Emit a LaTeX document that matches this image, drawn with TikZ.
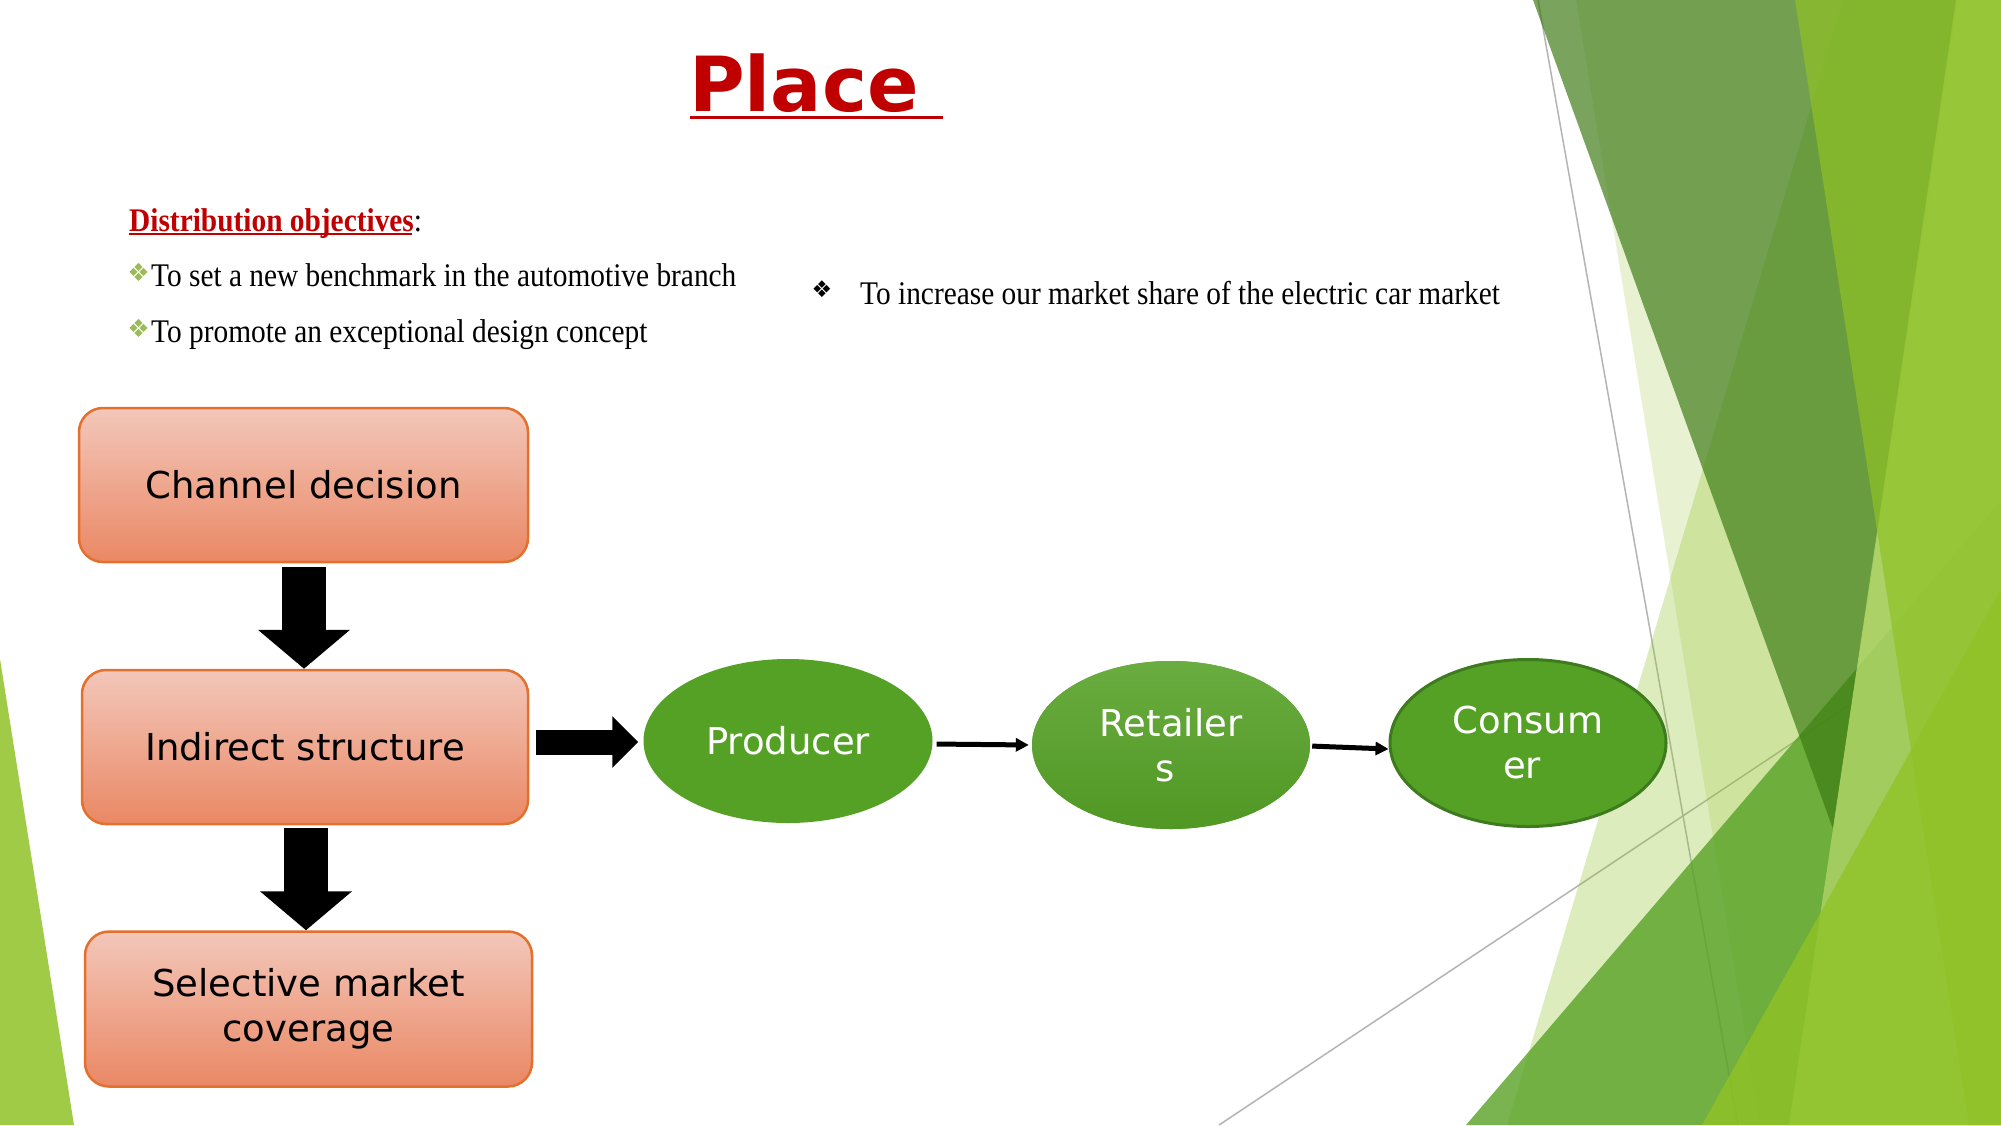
\documentclass[tikz,border=0pt]{standalone}
\usepackage{fontspec}
\setmainfont{Liberation Serif}
\newfontfamily\djsans{DejaVu Sans}
\newfontfamily\condserif[FakeStretch=0.89]{Liberation Serif}
\usetikzlibrary{arrows.meta,shapes.geometric,calc}

\definecolor{accA}{RGB}{144,194,38}
\definecolor{accB}{RGB}{84,160,33}
\definecolor{olivec}{RGB}{59,121,18}
\definecolor{bandL}{RGB}{168,208,98}
\definecolor{titlered}{RGB}{192,0,0}
\definecolor{bulletgreen}{RGB}{155,187,89}
\definecolor{boxtop}{RGB}{243,199,186}
\definecolor{boxbot}{RGB}{234,136,100}
\definecolor{boxline}{RGB}{228,112,45}
\definecolor{ellfill}{RGB}{85,161,38}
\definecolor{ellline}{RGB}{62,122,30}
\definecolor{thinline}{RGB}{180,180,180}

\tikzset{
  boxnode/.style={draw=boxline, line width=2.5pt, rounded corners=24pt,
    top color=boxtop, bottom color=boxbot, text=black, align=center, inner sep=0pt,
    font=\djsans\fontsize{37}{45}\selectfont},
  ellnode/.style={ellipse, fill=ellfill, text=white, align=center, inner sep=0pt,
    font=\djsans\fontsize{37}{45}\selectfont},
  blockarrow/.style={line width=44pt, -{Triangle[width=90pt,length=39pt]}},
  blockarrowh/.style={line width=25pt, -{Triangle[width=50pt,length=26pt]}},
  thinarrow/.style={line width=5pt, -{Triangle[width=13pt,length=13pt]}},
  textline/.style={anchor=base west, inner sep=0pt, font=\condserif\fontsize{33}{40}\selectfont},
  greenbullet/.style={inner sep=0pt, text=bulletgreen, font=\djsans\fontsize{25}{30}\selectfont},
  blackbullet/.style={inner sep=0pt, text=black, font=\djsans\fontsize{23}{28}\selectfont},
  deco/.style={line width=1.5pt, draw=thinline}
}

\begin{document}
\begin{tikzpicture}[x=1pt,y=-1pt]
\useasboundingbox (0,0) rectangle (2001,1125);
\fill[white] (0,0) rectangle (2001,1125);

% background facets
\draw[deco] (1538,0) -- (1738,1125);
\draw[deco] (1219,1125) -- (2001,604);
\fill[accA, fill opacity=0.3] (1843,0) -- (2001,0) -- (2001,1125) -- (1507,1125) -- cycle;
\fill[accA, fill opacity=0.2] (1576,0) -- (2001,0) -- (2001,1125) -- (1760,1125) -- cycle;
\fill[accB, fill opacity=0.78] (1466,1125) -- (2001,500) -- (2001,1125) -- cycle;
\fill[olivec, fill opacity=0.68] (1533,0) -- (1958,0) -- (1833,829) -- cycle;
\fill[bandL, fill opacity=0.9] (1956,0) -- (2001,0) -- (2001,1125) -- (1789,1125) -- cycle;
\fill[accA, fill opacity=0.7] (1795,0) -- (2001,0) -- (2001,1125) -- (1969,1125) -- cycle;
\fill[accA, fill opacity=0.8] (1702,1125) -- (2001,589) -- (2001,1125) -- cycle;
\fill[accA, fill opacity=0.85] (0,659) -- (74,1125) -- (0,1125) -- cycle;

% title
\node[anchor=base west, inner sep=0pt, text=titlered,
  font=\djsans\bfseries\fontsize{76}{90}\selectfont] (title) at (689,111) {Place};
\draw[titlered, line width=3.5pt] (690,117.5) -- (943,117.5);

% objectives
\node[textline] (dist) at (129,231) {\textcolor{titlered}{\bfseries Distribution objectives}:};
\draw[titlered, line width=2pt] (129,234) -- (412,234);
\node[greenbullet] (g1) at (138.5,272) {❖};
\node[textline] (obj1) at (151,286) {To set a new benchmark in the automotive branch};
\node[greenbullet] (g2) at (138.5,328) {❖};
\node[textline] (obj2) at (151,342) {To promote an exceptional design concept};
\node[blackbullet] (g3) at (822,289) {❖};
\node[textline] (obj3) at (860,304) {To increase our market share of the electric car market};

% boxes
\node[boxnode, minimum width=449pt, minimum height=154pt] (box1) at (303.5,485) {Channel decision};
\node[boxnode, minimum width=446pt, minimum height=154pt] (box2) at (305,747) {Indirect structure};
\node[boxnode, minimum width=447pt, minimum height=155pt] (box3) at (308.5,1009) {Selective market\\coverage};

% ellipses
\node[ellnode, minimum width=289pt, minimum height=164pt] (producer) at (788,741) {Producer};
\node[ellnode, minimum width=278pt, minimum height=168pt, top color=ellfill!88!white, bottom color=ellfill!94!black] (retailers) at (1171,745) {Retailer\\\hspace*{-12pt}s};
\node[ellnode, draw=ellline, line width=3pt, minimum width=276pt, minimum height=167pt] (consumer) at (1528,743) {Consum\\\hspace*{-12pt}er};

% connectors
\draw[blockarrow, shorten <=3.5pt] ([xshift=0.5pt]box1.south) -- ([xshift=0.5pt]box1.south |- box2.north);
\draw[blockarrow, shorten <=3pt] ([xshift=1pt]box2.south) -- ([xshift=1pt]box2.south |- box3.north);
\draw[blockarrowh, shorten <=6.5pt, shorten >=5pt] ([yshift=-1pt]box2.east |- producer.west) -- ([yshift=-1pt]producer.west);
\draw[thinarrow, shorten <=4pt, shorten >=3pt] ([yshift=-3pt]producer.east) -- (retailers.west);
\draw[thinarrow, shorten <=2pt, shorten >=0pt] ([yshift=-1pt]retailers.east) -- ([yshift=-6pt]consumer.west);
\end{tikzpicture}
\end{document}
